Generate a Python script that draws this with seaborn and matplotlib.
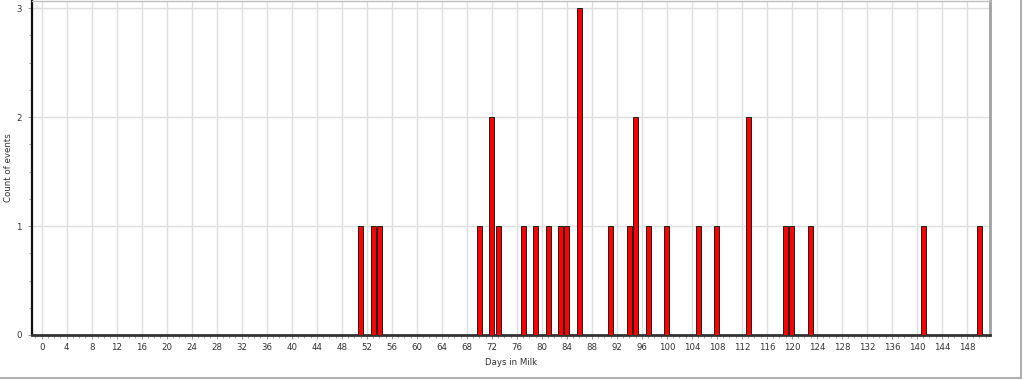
import matplotlib
matplotlib.use("Agg")
import matplotlib.pyplot as plt
import matplotlib.lines as mlines
from matplotlib.ticker import MultipleLocator
import numpy as np
import pandas as pd
import seaborn as sns

# ---- data ----
days_in_milk = [51, 53, 54, 70, 72, 73, 77, 79, 81, 83, 84, 86, 91, 94, 95,
                97, 100, 105, 108, 113, 119, 120, 123, 141, 150]
event_counts = [1, 1, 1, 1, 2, 1, 1, 1, 1, 1, 1, 3, 1, 1, 2,
                1, 1, 1, 1, 2, 1, 1, 1, 1, 1]
x_tick_values = list(range(0, 149, 4))
y_tick_values = [0, 1, 2, 3]
x_label = "Days in Milk"
y_label = "Count of events"

df = pd.DataFrame({"dim": days_in_milk, "count": event_counts})

sns.set_theme(style="white")
plt.rcParams["font.family"] = ["DejaVu Sans"]

fig = plt.figure(figsize=(10.24, 3.80), dpi=100)
ax_w = (990 - 31.7) / 1024
ax = fig.add_axes([31.7 / 1024, 45 / 380, ax_w, (380 - 45 - 0.5) / 380])

sns.barplot(data=df, x="dim", y="count", native_scale=True, width=0.8,
            color="#ff0000", saturation=1, edgecolor="#202020", linewidth=0.7,
            ax=ax, zorder=3)

ax.set_xlim(-1.6, 151.7)
ax.set_ylim(0, 3.07)

ax.set_xticks(x_tick_values)
ax.set_xticklabels([str(v) for v in x_tick_values])
ax.xaxis.set_minor_locator(MultipleLocator(1))
ax.set_yticks(y_tick_values)
ax.set_yticklabels([str(v) for v in y_tick_values])
ax.yaxis.set_minor_locator(MultipleLocator(0.25))

ax.grid(True, which="major", color="#dedede", linewidth=1.0, zorder=0)
ax.set_axisbelow(True)

ax.tick_params(axis="both", which="major", labelsize=6.2, labelcolor="#333333",
               color="#888888", length=3, width=0.6, direction="out",
               bottom=True, left=True)
ax.tick_params(axis="both", which="minor", color="#999999", length=2, width=0.6,
               direction="out", bottom=True, left=True)
ax.tick_params(axis="x", which="major", pad=3)
ax.tick_params(axis="y", which="major", pad=4)

ax.set_xlabel(x_label, fontsize=6.2, color="#333333", labelpad=4)
ax.set_ylabel(y_label, fontsize=6.2, color="#333333")
ax.yaxis.set_label_coords(-(31.7 - 13.5) / (ax_w * 1024), 0.5)

ax.spines["left"].set_color("#111111")
ax.spines["left"].set_linewidth(1.6)
ax.spines["bottom"].set_color("#333333")
ax.spines["bottom"].set_linewidth(2.0)
ax.spines["right"].set_color("#a0a0a0")
ax.spines["right"].set_linewidth(2.0)
ax.spines["top"].set_color("#c0c0c0")
ax.spines["top"].set_linewidth(1.0)

# outer panel frame lines (window chrome of the original)
fig.add_artist(mlines.Line2D([1020.5 / 1024, 1020.5 / 1024], [2 / 380, 1.0],
                             transform=fig.transFigure, color="#b0b0b0", linewidth=1.5))
fig.add_artist(mlines.Line2D([0, 1021 / 1024], [2 / 380, 2 / 380],
                             transform=fig.transFigure, color="#b0b0b0", linewidth=1.5))

fig.savefig("out.png", dpi=100)
